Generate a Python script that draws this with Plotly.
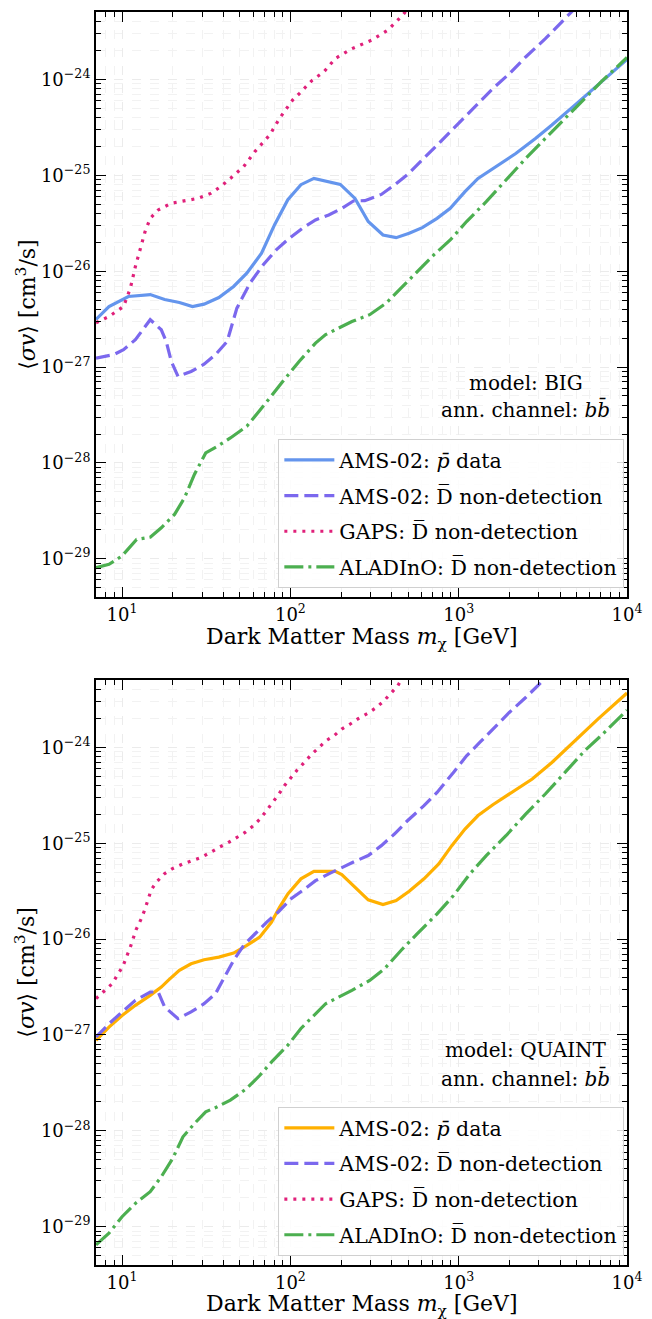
import plotly.graph_objects as go
from plotly.subplots import make_subplots
import numpy as np

# ---------------- data: top panel (model BIG) ----------------
big_pbar_x = [7.0, 8.36, 10.9, 14.7, 17.9, 21.9, 26.2, 30.7, 37.6, 46.0, 55.1, 67.4, 80.6, 96.6, 115.5, 138, 198, 242, 290, 355, 425, 508, 608, 744, 891, 1090, 1303, 1668, 2183, 2858, 3578, 4898, 6714, 10000]
big_pbar_y = [3.14e-27, 4.28e-27, 5.45e-27, 5.71e-27, 5.07e-27, 4.72e-27, 4.28e-27, 4.53e-27, 5.32e-27, 6.93e-27, 9.53e-27, 1.54e-26, 3.06e-26, 5.58e-26, 8.0e-26, 9.3e-26, 8.05e-26, 5.75e-26, 3.3e-26, 2.39e-26, 2.24e-26, 2.49e-26, 2.85e-26, 3.56e-26, 4.53e-26, 6.76e-26, 9.3e-26, 1.23e-25, 1.69e-25, 2.43e-25, 3.35e-25, 5.41e-25, 8.74e-25, 1.62e-24]

big_ams_d_x = [7.0, 8.94, 10.2, 12.0, 14.7, 17.1, 18.3, 19.6, 21.5, 25.7, 30.7, 35.9, 42.1, 48.1, 57.5, 69, 82.4, 98.6, 118, 141, 169, 202, 237, 277, 347, 415, 496, 622, 744, 931, 1114, 1334, 1596, 1998, 2500, 3273, 4583, 5500]
big_ams_d_y = [1.24e-27, 1.35e-27, 1.52e-27, 1.93e-27, 3.12e-27, 2.45e-27, 1.85e-27, 1.15e-27, 8.0e-28, 9.0e-28, 1.07e-27, 1.35e-27, 1.85e-27, 4.12e-27, 7.5e-27, 1.17e-26, 1.67e-26, 2.21e-26, 2.81e-26, 3.43e-26, 3.87e-26, 4.53e-26, 5.41e-26, 5.45e-26, 6.33e-26, 7.94e-26, 1.02e-25, 1.5e-25, 2.07e-25, 3.09e-25, 4.26e-25, 5.86e-25, 8.06e-25, 1.15e-24, 1.72e-24, 2.67e-24, 4.86e-24, 6.8e-24]

big_gaps_x = [7.0, 8.36, 10.2, 11.2, 12.0, 12.8, 13.7, 14.7, 16.4, 19.6, 23.5, 28.1, 33.6, 38.5, 44, 52.7, 61.5, 69, 75.4, 86.2, 94.4, 103, 113, 135, 158, 185, 232, 303, 379, 464, 520]
big_gaps_y = [2.9e-27, 3.37e-27, 4.28e-27, 6.65e-27, 1.12e-26, 1.74e-26, 2.59e-26, 3.56e-26, 4.36e-26, 5.12e-26, 5.41e-26, 5.75e-26, 6.49e-26, 7.62e-26, 9.3e-26, 1.23e-25, 1.77e-25, 2.24e-25, 2.64e-25, 3.93e-25, 4.99e-25, 6.1e-25, 7.15e-25, 9.86e-25, 1.2e-24, 1.66e-24, 2.1e-24, 2.57e-24, 3.27e-24, 4.69e-24, 6.0e-24]

big_aladino_x = [7.0, 8.36, 10.0, 12.2, 14.7, 17.1, 20.5, 23.5, 26.9, 31.4, 36.8, 44, 55.1, 63, 75.4, 90.3, 113, 141, 162, 185, 232, 296, 371, 454, 568, 711, 891, 1114, 1458, 1909, 2500, 3270, 4281, 5358, 7015, 10000]
big_aladino_y = [8.05e-30, 8.74e-30, 1.07e-29, 1.59e-29, 1.68e-29, 2.1e-29, 2.9e-29, 4.32e-29, 7.57e-29, 1.27e-28, 1.49e-28, 1.82e-28, 2.41e-28, 3.19e-28, 4.75e-28, 7.1e-28, 1.15e-27, 1.78e-27, 2.18e-27, 2.45e-27, 2.99e-27, 3.52e-27, 4.65e-27, 6.65e-27, 9.93e-27, 1.48e-26, 2.12e-26, 3.3e-26, 5.32e-26, 8.95e-26, 1.5e-25, 2.43e-25, 3.93e-25, 5.86e-25, 9.46e-25, 1.7e-24]

# ---------------- data: bottom panel (model QUAINT) ----------------
qu_pbar_x = [7.0, 8.36, 10.0, 12.0, 14.7, 17.1, 18.8, 21.9, 25.7, 30.7, 37.6, 46.0, 55.1, 65.7, 77.1, 86.2, 96.6, 115.5, 138, 185, 202, 242, 290, 355, 425, 508, 622, 761, 910, 1090, 1303, 1596, 1998, 2735, 3578, 4898, 6714, 10000]
qu_pbar_y = [8.81e-28, 1.21e-27, 1.6e-27, 2.04e-27, 2.59e-27, 3.16e-27, 3.71e-27, 4.72e-27, 5.54e-27, 6.1e-27, 6.49e-27, 7.15e-27, 8.6e-27, 1.05e-26, 1.5e-26, 2.15e-26, 2.97e-26, 4.26e-26, 5.1e-26, 5.1e-26, 4.72e-26, 3.48e-26, 2.57e-26, 2.3e-26, 2.53e-26, 3.16e-26, 4.26e-26, 6.1e-26, 9.46e-26, 1.41e-25, 1.95e-25, 2.53e-25, 3.27e-25, 4.69e-25, 6.98e-25, 1.17e-24, 1.98e-24, 3.7e-24]

qu_ams_d_x = [7.0, 8.36, 10.0, 12.0, 14.7, 16.4, 17.9, 21.5, 25.7, 30.7, 35.9, 40.3, 46.0, 52.7, 61.5, 72.1, 84.4, 101, 118, 141, 169, 202, 242, 290, 347, 415, 496, 622, 744, 931, 1114, 1334, 1596, 1998, 2500, 3273, 3700]
qu_ams_d_y = [9.53e-28, 1.31e-27, 1.74e-27, 2.3e-27, 2.81e-27, 2.81e-27, 1.96e-27, 1.48e-27, 1.74e-27, 2.12e-27, 2.7e-27, 3.89e-27, 6.0e-27, 8.6e-27, 1.14e-26, 1.5e-26, 1.91e-26, 2.64e-26, 3.21e-26, 4.08e-26, 4.8e-26, 5.62e-26, 6.49e-26, 7.45e-26, 9.46e-26, 1.25e-25, 1.72e-25, 2.47e-25, 3.4e-25, 5.49e-25, 8.19e-25, 1.13e-24, 1.56e-24, 2.32e-24, 3.32e-24, 5.16e-24, 6.5e-24]

qu_gaps_x = [7.0, 7.92, 8.74, 9.35, 10.1, 11.2, 12.1, 13.0, 13.7, 14.9, 16.0, 17.8, 19.8, 23.0, 26.2, 29.6, 33.6, 37.6, 42.1, 47.6, 53.8, 60.3, 65.9, 72.1, 78.9, 85.5, 92.2, 101, 110, 121, 134, 148, 162, 181, 202, 226, 253, 287, 324, 359, 397, 434, 470]
qu_gaps_y = [2.4e-27, 2.92e-27, 3.43e-27, 4.19e-27, 5.19e-27, 8.26e-27, 1.25e-26, 1.63e-26, 2.07e-26, 3.27e-26, 3.93e-26, 4.8e-26, 5.41e-26, 6.1e-26, 6.6e-26, 7.15e-26, 8.05e-26, 9.08e-26, 1.0e-25, 1.15e-25, 1.3e-25, 1.53e-25, 1.79e-25, 2.19e-25, 2.67e-25, 3.27e-25, 3.99e-25, 4.87e-25, 5.86e-25, 6.98e-25, 8.53e-25, 1.0e-24, 1.17e-24, 1.32e-24, 1.56e-24, 1.75e-24, 2.0e-24, 2.26e-24, 2.61e-24, 3.06e-24, 3.74e-24, 4.39e-24, 5.6e-24]

qu_aladino_x = [7.0, 8.36, 10.0, 12.0, 14.7, 17.1, 20.0, 23.0, 26.9, 31.4, 36.8, 44, 55.1, 65.9, 78.9, 96.6, 115.5, 141, 162, 232, 296, 363, 454, 568, 744, 931, 1166, 1458, 1909, 2500, 3270, 4281, 5604, 7178, 10000]
qu_aladino_y = [6.46e-30, 8.56e-30, 1.27e-29, 1.75e-29, 2.32e-29, 3.32e-29, 5.16e-29, 8.66e-29, 1.19e-28, 1.58e-28, 1.78e-28, 2.09e-28, 2.77e-28, 3.8e-28, 5.45e-28, 7.82e-28, 1.17e-27, 1.67e-27, 2.12e-27, 2.92e-27, 3.71e-27, 4.92e-27, 7.62e-27, 1.14e-26, 1.84e-26, 2.85e-26, 4.8e-26, 7.45e-26, 1.2e-25, 2.02e-25, 3.27e-25, 5.49e-25, 9.25e-25, 1.38e-24, 2.45e-24]

# ---------------- tick labels ----------------
x_major = [10, 100, 1000, 10000]
x_major_text = ["10<sup>1</sup>", "10<sup>2</sup>", "10<sup>3</sup>", "10<sup>4</sup>"]
y_major = [1e-29, 1e-28, 1e-27, 1e-26, 1e-25, 1e-24]
y_major_text = ["10<sup>\u221229</sup>", "10<sup>\u221228</sup>", "10<sup>\u221227</sup>",
                "10<sup>\u221226</sup>", "10<sup>\u221225</sup>", "10<sup>\u221224</sup>"]

x_minor = [m * 10.0 ** e for e in range(0, 4) for m in range(2, 10) if 7 <= m * 10.0 ** e < 10000]
y_minor = [m * 10.0 ** e for e in range(-30, -23) for m in range(2, 10) if 4e-30 <= m * 10.0 ** e <= 5e-24]

labels = ["AMS-02: <i>p\u0304</i> data",
          "AMS-02: D\u0305 non-detection",
          "GAPS: D\u0305 non-detection",
          "ALADInO: D\u0305 non-detection"]

C_BLUE = "#6495ED"
C_ORANGE = "#FFB000"
C_PURPLE = "#7B68EE"
C_PINK = "#E0207A"
C_GREEN = "#4CAF50"
LW = 3.2
FONT = "DejaVu Serif"

fig = make_subplots(rows=2, cols=1, vertical_spacing=83 / 1255)

panels = [
    (1, "legend", C_BLUE, big_pbar_x, big_pbar_y, big_ams_d_x, big_ams_d_y, big_gaps_x, big_gaps_y, big_aladino_x, big_aladino_y),
    (2, "legend2", C_ORANGE, qu_pbar_x, qu_pbar_y, qu_ams_d_x, qu_ams_d_y, qu_gaps_x, qu_gaps_y, qu_aladino_x, qu_aladino_y),
]
for row, leg, c0, px, py, ax, ay, gx, gy, lx, ly in panels:
    specs = [
        (px, py, c0, "solid", labels[0]),
        (ax, ay, C_PURPLE, "14px,6px", labels[1]),
        (gx, gy, C_PINK, "3px,6px", labels[2]),
        (lx, ly, C_GREEN, "19px,5px,3px,5px", labels[3]),
    ]
    for i, (xx, yy, col, dash, name) in enumerate(specs):
        fig.add_trace(go.Scatter(x=xx, y=yy, mode="lines", name=name,
                                 line=dict(color=col, width=LW, dash=dash),
                                 legend=leg, legendgroup=f"{leg}_{i}",
                                 showlegend=True, cliponaxis=True),
                      row=row, col=1)

axis_common = dict(
    showline=True, linecolor="black", linewidth=2, mirror="allticks",
    ticks="inside", ticklen=10, tickwidth=1.3, tickcolor="black",
    showgrid=True, gridcolor="#ebebeb", griddash="dash", gridwidth=1,
    zeroline=False, tickfont=dict(family=FONT, size=18, color="black"),
)
for r in (1, 2):
    fig.update_xaxes(type="log", range=[np.log10(7), 4], tickmode="array",
                     tickvals=x_major, ticktext=x_major_text,
                     minor=dict(tickmode="array", tickvals=x_minor, ticks="inside", ticklen=5,
                                tickwidth=1, tickcolor="black", showgrid=True,
                                gridcolor="#f2f2f2", griddash="dash", gridwidth=1),
                     row=r, col=1, **axis_common)
    fig.update_yaxes(type="log", range=[-29.4, -23.295], tickmode="array",
                     tickvals=y_major, ticktext=y_major_text,
                     minor=dict(tickmode="array", tickvals=y_minor, ticks="inside", ticklen=5,
                                tickwidth=1, tickcolor="black", showgrid=True,
                                gridcolor="#f2f2f2", griddash="dash", gridwidth=1),
                     row=r, col=1, **axis_common)

legend_common = dict(
    xanchor="right", yanchor="bottom", x=0.995,
    bgcolor="rgba(255,255,255,0.85)", bordercolor="#d0d0d0", borderwidth=1,
    font=dict(family=FONT, size=20.5, color="black"),
    tracegroupgap=6, itemwidth=50, traceorder="grouped",
)
fig.update_layout(
    width=652, height=1319,
    margin=dict(l=96, r=16, t=10, b=54),
    plot_bgcolor="white", paper_bgcolor="white",
    font=dict(family=FONT, size=20, color="black"),
    legend=dict(y=0.5402, **legend_common),
    legend2=dict(y=0.0072, **legend_common),
)

ann = []
for ytxt1, ytxt2, model, ytitle, xtitle in [(0.7036, 0.6829, "BIG", 0.7665, 0.5),
                                             (0.1713, 0.149, "QUAINT", 0.2335, -0.0325)]:
    ann.append(dict(x=0.809, y=ytxt1, xref="paper", yref="paper", xanchor="center", yanchor="middle",
                    text=f"model: {model}", showarrow=False, font=dict(family=FONT, size=20)))
    ann.append(dict(x=0.809, y=ytxt2, xref="paper", yref="paper", xanchor="center", yanchor="middle",
                    text="ann. channel: <i>b</i><i>b\u0304</i>", showarrow=False, font=dict(family=FONT, size=20)))
    ann.append(dict(x=-0.1333, y=ytitle, xref="paper", yref="paper", xanchor="center", yanchor="middle",
                    textangle=-90, text="\u27e8<i>\u03c3v</i>\u27e9 [cm<sup>3</sup>/s]", showarrow=False,
                    font=dict(family=FONT, size=22)))
    ann.append(dict(x=0.5, y=xtitle, xref="paper", yref="paper", xanchor="center", yanchor="middle",
                    text="Dark Matter Mass <i>m</i><sub>\u03c7</sub> [GeV]", showarrow=False,
                    font=dict(family=FONT, size=22)))
fig.update_layout(annotations=ann)

fig.write_html("out.html")
